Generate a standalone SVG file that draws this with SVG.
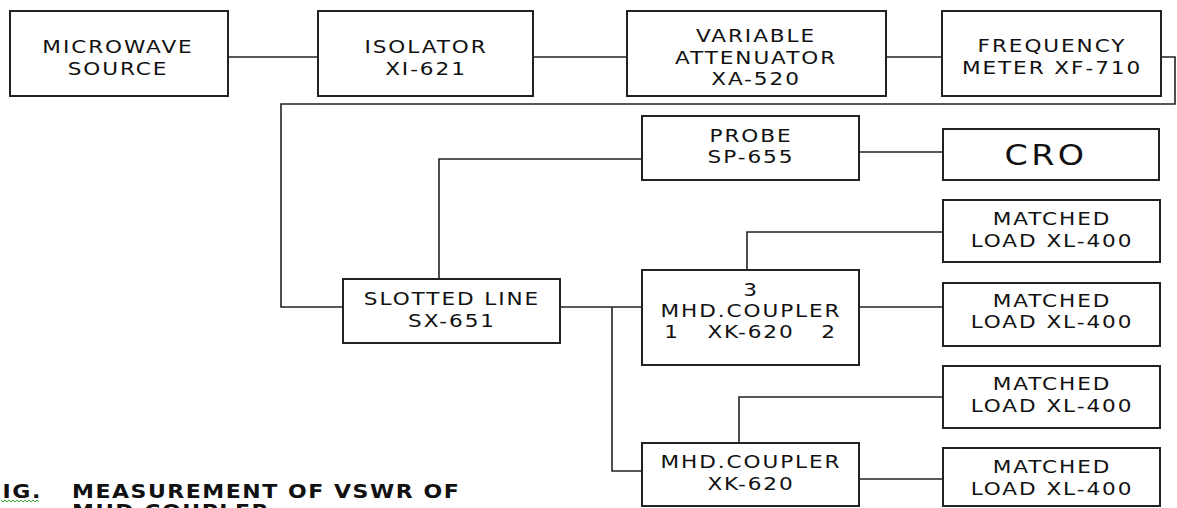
<svg xmlns="http://www.w3.org/2000/svg" width="1177" height="508" viewBox="0 0 1177 508">
<style>
.box{fill:#fff;stroke:#222;stroke-width:2}
.t{font-family:"DejaVu Sans",Verdana,sans-serif;font-size:18px;letter-spacing:1.6px;fill:#111;text-anchor:middle}
.big{font-size:29px;letter-spacing:3px}
.cap{font-family:"DejaVu Sans",Verdana,sans-serif;font-size:20px;font-weight:bold;letter-spacing:1.4px;fill:#111}
.c{fill:none;stroke:#222;stroke-width:1.6}
</style>
<rect width="1177" height="508" fill="#fff"/>
<g id="connectors">
<path class="c" d="M228,57H318"/>
<path class="c" d="M533,57H627"/>
<path class="c" d="M886,57H942"/>
<path class="c" d="M1161,57H1175V104H281V307H343"/>
<path class="c" d="M642,159H439V279"/>
<path class="c" d="M859,152H943"/>
<path class="c" d="M560,307H642"/>
<path class="c" d="M612,307V471H642"/>
<path class="c" d="M747,270V232H943"/>
<path class="c" d="M859,307H943"/>
<path class="c" d="M739,443V397H943"/>
<path class="c" d="M859,479H943"/>
</g>
<g id="source"><rect class="box" x="10" y="11" width="218" height="85"/><text class="t" transform="translate(118,53) scale(1.2,1)">MICROWAVE</text><text class="t" transform="translate(118,75) scale(1.2,1)">SOURCE</text></g>
<g id="isolator"><rect class="box" x="318" y="11" width="215" height="85"/><text class="t" transform="translate(426,53) scale(1.2,1)">ISOLATOR</text><text class="t" transform="translate(426,75) scale(1.2,1)">XI-621</text></g>
<g id="attenuator"><rect class="box" x="627" y="11" width="259" height="85"/><text class="t" transform="translate(756,42) scale(1.2,1)">VARIABLE</text><text class="t" transform="translate(756,64) scale(1.2,1)">ATTENUATOR</text><text class="t" transform="translate(756,85) scale(1.2,1)">XA-520</text></g>
<g id="freqmeter"><rect class="box" x="942" y="11" width="219" height="85"/><text class="t" transform="translate(1052,52) scale(1.2,1)">FREQUENCY</text><text class="t" transform="translate(1052,74) scale(1.2,1)">METER XF-710</text></g>
<g id="probe"><rect class="box" x="642" y="116" width="217" height="64"/><text class="t" transform="translate(751,142) scale(1.2,1)">PROBE</text><text class="t" transform="translate(751,163) scale(1.2,1)">SP-655</text></g>
<g id="cro"><rect class="box" x="943" y="129" width="216" height="51"/><text class="t big" transform="translate(1046,165) scale(1.15,1)">CRO</text></g>
<g id="slotted"><rect class="box" x="343" y="279" width="217" height="64"/><text class="t" transform="translate(452,305) scale(1.2,1)">SLOTTED LINE</text><text class="t" transform="translate(452,327) scale(1.2,1)">SX-651</text></g>
<g id="coupler1"><rect class="box" x="642" y="270" width="217" height="95"/><text class="t" transform="translate(751,296) scale(1.2,1)">3</text><text class="t" transform="translate(751,317) scale(1.2,1)">MHD.COUPLER</text><text class="t" transform="translate(672,338) scale(1.2,1)">1</text><text class="t" transform="translate(751,338) scale(1.2,1)">XK-620</text><text class="t" transform="translate(829,338) scale(1.2,1)">2</text></g>
<g id="load1"><rect class="box" x="943" y="200" width="217" height="62"/><text class="t" transform="translate(1052,225) scale(1.2,1)">MATCHED</text><text class="t" transform="translate(1052,247) scale(1.2,1)">LOAD XL-400</text></g>
<g id="load2"><rect class="box" x="943" y="283" width="217" height="63"/><text class="t" transform="translate(1052,307) scale(1.2,1)">MATCHED</text><text class="t" transform="translate(1052,328) scale(1.2,1)">LOAD XL-400</text></g>
<g id="load3"><rect class="box" x="943" y="366" width="217" height="62"/><text class="t" transform="translate(1052,390) scale(1.2,1)">MATCHED</text><text class="t" transform="translate(1052,412) scale(1.2,1)">LOAD XL-400</text></g>
<g id="coupler2"><rect class="box" x="642" y="443" width="217" height="63"/><text class="t" transform="translate(751,468) scale(1.2,1)">MHD.COUPLER</text><text class="t" transform="translate(751,490) scale(1.2,1)">XK-620</text></g>
<g id="load4"><rect class="box" x="943" y="448" width="217" height="58"/><text class="t" transform="translate(1052,473) scale(1.2,1)">MATCHED</text><text class="t" transform="translate(1052,495) scale(1.2,1)">LOAD XL-400</text></g>
<g id="caption">
<text class="cap" transform="translate(-14,498) scale(1.1,1)">FIG.</text>
<text class="cap" transform="translate(72,498) scale(1.1,1)">MEASUREMENT OF VSWR OF</text>
<text class="cap" transform="translate(72,518) scale(1.1,1)">MHD COUPLER</text>
<polyline points="1,500 3,502 5,500 7,502 9,500 11,502 13,500 15,502 17,500 19,502 21,500 23,502 25,500 27,502 29,500 31,502 33,500 35,502 37,500 39,502" fill="none" stroke="#3a3" stroke-width="1"/>
</g>
</svg>
